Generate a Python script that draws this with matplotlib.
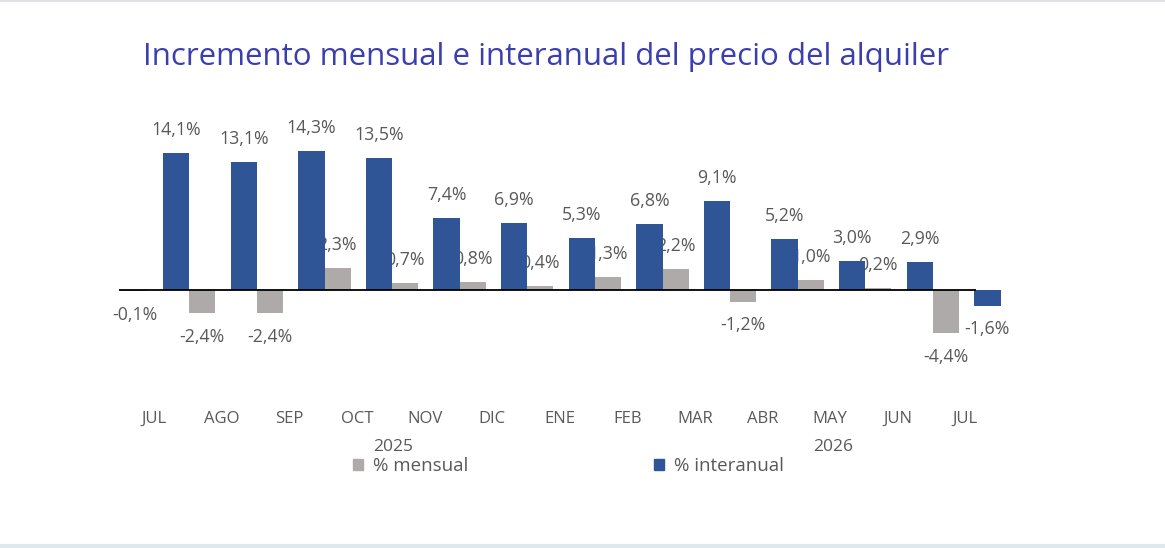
import numpy as np
import matplotlib.pyplot as plt
from matplotlib.patches import Patch
from matplotlib.lines import Line2D

# datos
meses = ["JUL", "AGO", "SEP", "OCT", "NOV", "DIC", "ENE", "FEB", "MAR", "ABR", "MAY", "JUN", "JUL"]
mensual = [-0.1, -2.4, -2.4, 2.3, 0.7, 0.8, 0.4, 1.3, 2.2, -1.2, 1.0, 0.2, -4.4]
interanual = [14.1, 13.1, 14.3, 13.5, 7.4, 6.9, 5.3, 6.8, 9.1, 5.2, 3.0, 2.9, -1.6]
anios = ["2025", "2026"]
anios_pos = [3.54, 10.04]

plt.rcParams['font.family'] = ['Open Sans', 'DejaVu Sans']

GRIS = "#aeaaaa"
AZUL = "#2f5597"
TXT = "#595959"

fig = plt.figure(figsize=(11.65, 5.48), dpi=100)
ax = fig.add_axes([119 / 1165, 1 - 380 / 548, 887 / 1165, 270 / 548])

x = np.arange(len(meses))
w = 0.39
b1 = ax.bar(x - 0.29, mensual, w, color=GRIS, zorder=2)
b2 = ax.bar(x + 0.325, interanual, w, color=AZUL, zorder=3)


def fmt(v):
    return f"{v:.1f}%".replace(".", ",")


for bars, vals, z in [(b1, mensual, 2.5), (b2, interanual, 4)]:
    for r, v in zip(bars, vals):
        cx = r.get_x() + r.get_width() / 2
        off = 16.5 if v >= 0 else -17
        ax.annotate(fmt(v), (cx, v), xytext=(0, off), textcoords="offset points",
                    ha="center", va="center", fontsize=12.8, color=TXT, zorder=z)

ax.set_xlim(-0.52, 12.6)
ax.set_ylim(-90 / 9.75, 180 / 9.75)
ax.hlines(0, -0.52, x[-1] + 0.16, color="black", lw=1.3, zorder=5)

for s in ax.spines.values():
    s.set_visible(False)
ax.set_yticks([])
ax.set_xticks(x)
ax.set_xticklabels(meses, fontsize=12, color=TXT)
ax.tick_params(axis="x", length=0, pad=22)

for a, p in zip(anios, anios_pos):
    ax.text(p, -157 / 9.75, a, ha="center", va="center", fontsize=12.5, color=TXT)

fig.text(143 / 1165, 1 - 57 / 548, "Incremento mensual e interanual del precio del alquiler",
         fontsize=22.5, color="#3b3fae", ha="left", va="center")

handles = [Patch(color=GRIS), Patch(color=AZUL)]
fig.legend(handles, ["% mensual", "% interanual"], ncol=2, frameon=False,
           loc="center left", bbox_to_anchor=(336 / 1165, 1 - 466 / 548),
           fontsize=13.5, labelcolor=TXT, handlelength=0.55, handleheight=0.55,
           handletextpad=0.53, columnspacing=9.9)

# bordes de la captura
fig.add_artist(Line2D([0, 1], [0.999, 0.999], color="#dfe3e6", lw=1.5))
fig.add_artist(Line2D([0, 1], [0.003, 0.003], color="#dfe8ec", lw=3))

fig.savefig("out.png", dpi=100, facecolor="white")
